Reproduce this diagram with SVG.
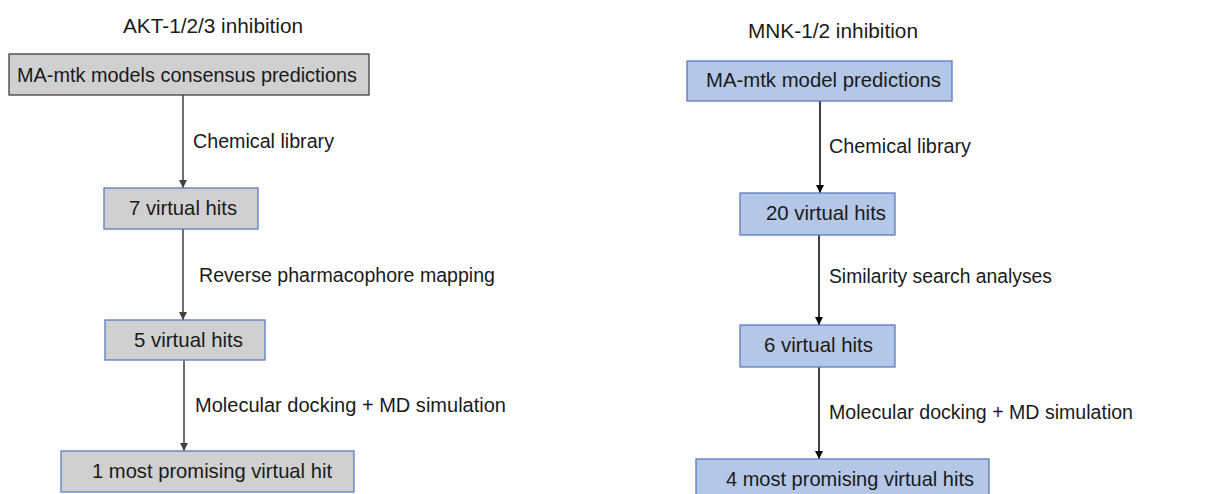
<svg xmlns="http://www.w3.org/2000/svg" width="1220" height="494" viewBox="0 0 1220 494">
<defs>
<marker id="ahG" markerWidth="8" markerHeight="8" refX="8" refY="4" orient="auto" markerUnits="userSpaceOnUse">
<path d="M0,0 L8,4 L0,8 Z" fill="#404040"/>
</marker>
<marker id="ahB" markerWidth="8" markerHeight="8" refX="8" refY="4" orient="auto" markerUnits="userSpaceOnUse">
<path d="M0,0 L8,4 L0,8 Z" fill="#000"/>
</marker>
</defs>
<style>
text{font-family:"Liberation Sans",Arial,sans-serif;fill:#1a1a1a;}
.t{font-size:20px;}
.n{font-size:21px;}
.l{font-size:20px;}
.gray{fill:#d0d0d0;stroke:#404040;stroke-width:1.3;}
.grayb{fill:#d0d0d0;stroke:#5b7cbf;stroke-width:1.3;}
.blue{fill:#b4c7e7;stroke:#5b7cbf;stroke-width:1.3;}
.cg{stroke:#404040;stroke-width:1.5;fill:none;}
.cb{stroke:#000;stroke-width:1.5;fill:none;}
</style>
<rect width="1220" height="494" fill="#fff"/>
<text class="t" x="123" y="33" textLength="180" lengthAdjust="spacingAndGlyphs">AKT-1/2/3 inhibition</text>
<text class="t" x="748" y="38" textLength="170" lengthAdjust="spacingAndGlyphs">MNK-1/2 inhibition</text>
<g id="connectors">
<line class="cg" x1="183" y1="95" x2="183" y2="188" marker-end="url(#ahG)"/>
<line class="cg" x1="183" y1="229" x2="183" y2="320" marker-end="url(#ahG)"/>
<line class="cg" x1="184" y1="360" x2="184" y2="451" marker-end="url(#ahG)"/>
<text class="l" x="193" y="148" textLength="141" lengthAdjust="spacingAndGlyphs">Chemical library</text>
<text class="l" x="199" y="282" textLength="296" lengthAdjust="spacingAndGlyphs">Reverse pharmacophore mapping</text>
<text class="l" x="195" y="412" textLength="311" lengthAdjust="spacingAndGlyphs">Molecular docking + MD simulation</text>
<line class="cb" x1="820" y1="101" x2="820" y2="193" marker-end="url(#ahB)"/>
<line class="cb" x1="819" y1="235" x2="819" y2="325" marker-end="url(#ahB)"/>
<line class="cb" x1="819" y1="367" x2="819" y2="459" marker-end="url(#ahB)"/>
<text class="l" x="829" y="153" textLength="142" lengthAdjust="spacingAndGlyphs">Chemical library</text>
<text class="l" x="829" y="283" textLength="223" lengthAdjust="spacingAndGlyphs">Similarity search analyses</text>
<text class="l" x="829" y="419" textLength="304" lengthAdjust="spacingAndGlyphs">Molecular docking + MD simulation</text>
</g>
<g id="akt-consensus">
<rect class="gray" x="9" y="54" width="360" height="41"/>
<text class="n" x="17" y="82" textLength="340" lengthAdjust="spacingAndGlyphs">MA-mtk models consensus predictions</text>
</g>
<g id="akt-7hits">
<rect class="grayb" x="104" y="188" width="154" height="41"/>
<text class="n" x="129" y="215" textLength="108" lengthAdjust="spacingAndGlyphs">7 virtual hits</text>
</g>
<g id="akt-5hits">
<rect class="grayb" x="105" y="320" width="160" height="40"/>
<text class="n" x="134" y="347" textLength="109" lengthAdjust="spacingAndGlyphs">5 virtual hits</text>
</g>
<g id="akt-1hit">
<rect class="grayb" x="61" y="451" width="293" height="41"/>
<text class="n" x="92" y="478" textLength="240" lengthAdjust="spacingAndGlyphs">1 most promising virtual hit</text>
</g>
<g id="mnk-model">
<rect class="blue" x="687" y="61" width="265" height="40"/>
<text class="n" x="706" y="87" textLength="235" lengthAdjust="spacingAndGlyphs">MA-mtk model predictions</text>
</g>
<g id="mnk-20hits">
<rect class="blue" x="740" y="193" width="155" height="42"/>
<text class="n" x="766" y="220" textLength="120" lengthAdjust="spacingAndGlyphs">20 virtual hits</text>
</g>
<g id="mnk-6hits">
<rect class="blue" x="740" y="325" width="155" height="42"/>
<text class="n" x="764" y="352" textLength="109" lengthAdjust="spacingAndGlyphs">6 virtual hits</text>
</g>
<g id="mnk-4hits">
<rect class="blue" x="696" y="459" width="293" height="50"/>
<text class="n" x="726" y="486" textLength="248" lengthAdjust="spacingAndGlyphs">4 most promising virtual hits</text>
</g>
</svg>
